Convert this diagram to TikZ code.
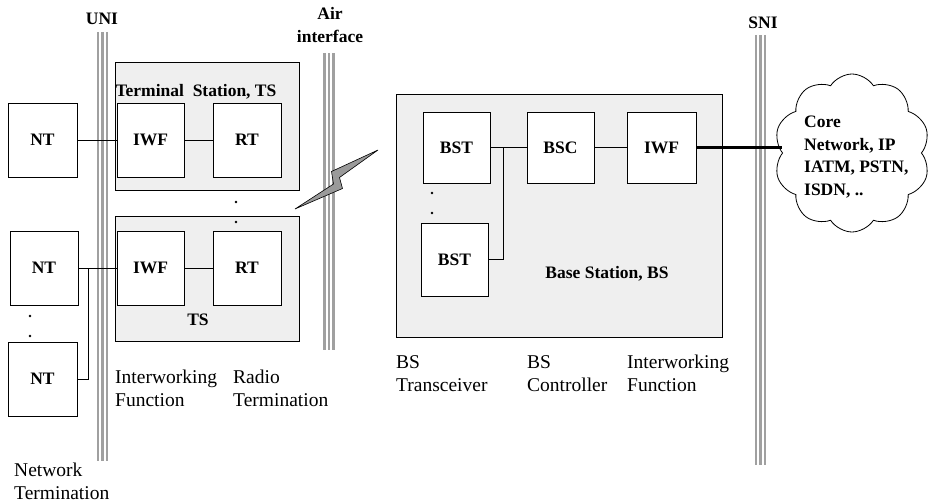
\documentclass[tikz,border=0pt]{standalone}
\usepackage{fontspec}
\setmainfont{Liberation Serif}
\usetikzlibrary{shapes.symbols}
\definecolor{panel}{HTML}{EFEFEF}
\definecolor{bar}{HTML}{A0A0A0}
\definecolor{bolt}{HTML}{9A9A9A}
\begin{document}
\begin{tikzpicture}[x=1pt,y=-1pt,
  unit/.style={draw,fill=white,line width=0.8pt,inner sep=0pt,minimum width=68pt,minimum height=73pt,font=\fontsize{17.5}{21}\selectfont\bfseries},
  panelbox/.style={draw,fill=panel,line width=0.8pt},
  btext/.style={font=\fontsize{17.5}{22.5}\selectfont\bfseries,inner sep=0pt},
  rtext/.style={font=\fontsize{19.5}{23}\selectfont,align=left,inner sep=0pt,anchor=north west},
  link/.style={line width=0.8pt},
  barline/.style={bar,line width=2.9pt},
  dotm/.style={fill=black}]
\useasboundingbox (0,0) rectangle (930,503);

% interface bars
\foreach \x in {98,102.5,107} \draw[barline] (\x,32) -- (\x,461);
\foreach \x in {324.5,329,333.5} \draw[barline] (\x,53) -- (\x,350);
\foreach \x in {756,760.5,765} \draw[barline] (\x,35) -- (\x,465);

\node[btext] (uni) at (102,19) {UNI};
\node[btext] (sni) at (763,23) {SNI};
\node[btext,align=center] (air) at (330,25) {Air\\interface};

% terminal stations
\draw[panelbox] (115,62) rectangle (299,190);
\draw[panelbox] (115,216) rectangle (299,341);
\node[btext] (tslabel) at (196,92) {Terminal~~Station, TS};
\node[btext] (ts2) at (198,320) {TS};

\node[unit,minimum width=69pt,minimum height=74pt] (nt1) at (42.5,140) {NT};
\node[unit,minimum width=67pt,minimum height=74pt] (iwf1) at (150.5,140) {IWF};
\node[unit,minimum width=68pt,minimum height=74pt] (rt1) at (247,140) {RT};

\node[unit,minimum width=68pt,minimum height=74pt] (nt2) at (44,268) {NT};
\node[unit,minimum width=67pt,minimum height=74pt] (iwf2) at (150.5,268) {IWF};
\node[unit,minimum width=68pt,minimum height=74pt] (rt2) at (247,268) {RT};
\node[unit,minimum width=69pt,minimum height=74pt] (nt3) at (42.5,379) {NT};

\draw[link] (nt1.east) -- (iwf1.west);
\draw[link] (iwf1.east) -- (rt1.west);
\draw[link] (nt2.east) -- (iwf2.west);
\draw[link] (iwf2.east) -- (rt2.west);
\coordinate (j1) at (88,268);
\draw[link] (nt3.east) -| (j1);

\fill[dotm] (236,202) circle (1.3);
\fill[dotm] (236,222) circle (1.3);
\fill[dotm] (30,316) circle (1.3);
\fill[dotm] (30,336) circle (1.3);

% lightning
\draw[fill=bolt,line width=0.6pt,line join=miter] (378,150) -- (331.5,171.5) -- (333.5,184) -- (295,209) -- (342.5,188.5) -- (339.5,177.5) -- cycle;

% base station
\draw[panelbox] (396,94) rectangle (722,337);
\node[unit,minimum width=67pt,minimum height=71pt] (bst1) at (456.5,147.5) {BST};
\node[unit,minimum width=67pt,minimum height=71pt] (bsc) at (560.5,147.5) {BSC};
\node[unit,minimum width=69pt,minimum height=71pt] (iwf3) at (661.5,147.5) {IWF};
\node[unit,minimum width=67pt,minimum height=73pt] (bst2) at (454.5,259.5) {BST};
\node[btext] (bslabel) at (607,274) {Base Station, BS};

\draw[link] (bst1.east) -- (bsc.west);
\draw[link] (bsc.east) -- (iwf3.west);
\coordinate (j2) at (503,147.5);
\draw[link] (bst2.east) -| (j2);

\fill[dotm] (432,193) circle (1.3);
\fill[dotm] (432,213) circle (1.3);

% core network cloud
\node[cloud,draw,fill=white,line width=0.8pt,cloud puffs=10,cloud puff arc=115,aspect=1,minimum width=156pt,minimum height=158pt,inner sep=0pt] (core) at (852,153) {};
\node[btext,align=left,anchor=north west] (coretext) at (804,116) {Core\\Network, IP\\IATM, PSTN,\\ISDN, ..};
\draw[line width=3pt] (iwf3.east) -- (iwf3.east -| core.west);

% descriptive labels
\node[rtext] (lab1) at (115,370) {Interworking\\Function};
\node[rtext] (lab2) at (233,370) {Radio\\Termination};
\node[rtext] (lab3) at (14,463) {Network\\Termination};
\node[rtext] (lab4) at (396,355) {BS\\Transceiver};
\node[rtext] (lab5) at (527,355) {BS\\Controller};
\node[rtext] (lab6) at (627,355) {Interworking\\Function};
\end{tikzpicture}
\end{document}
